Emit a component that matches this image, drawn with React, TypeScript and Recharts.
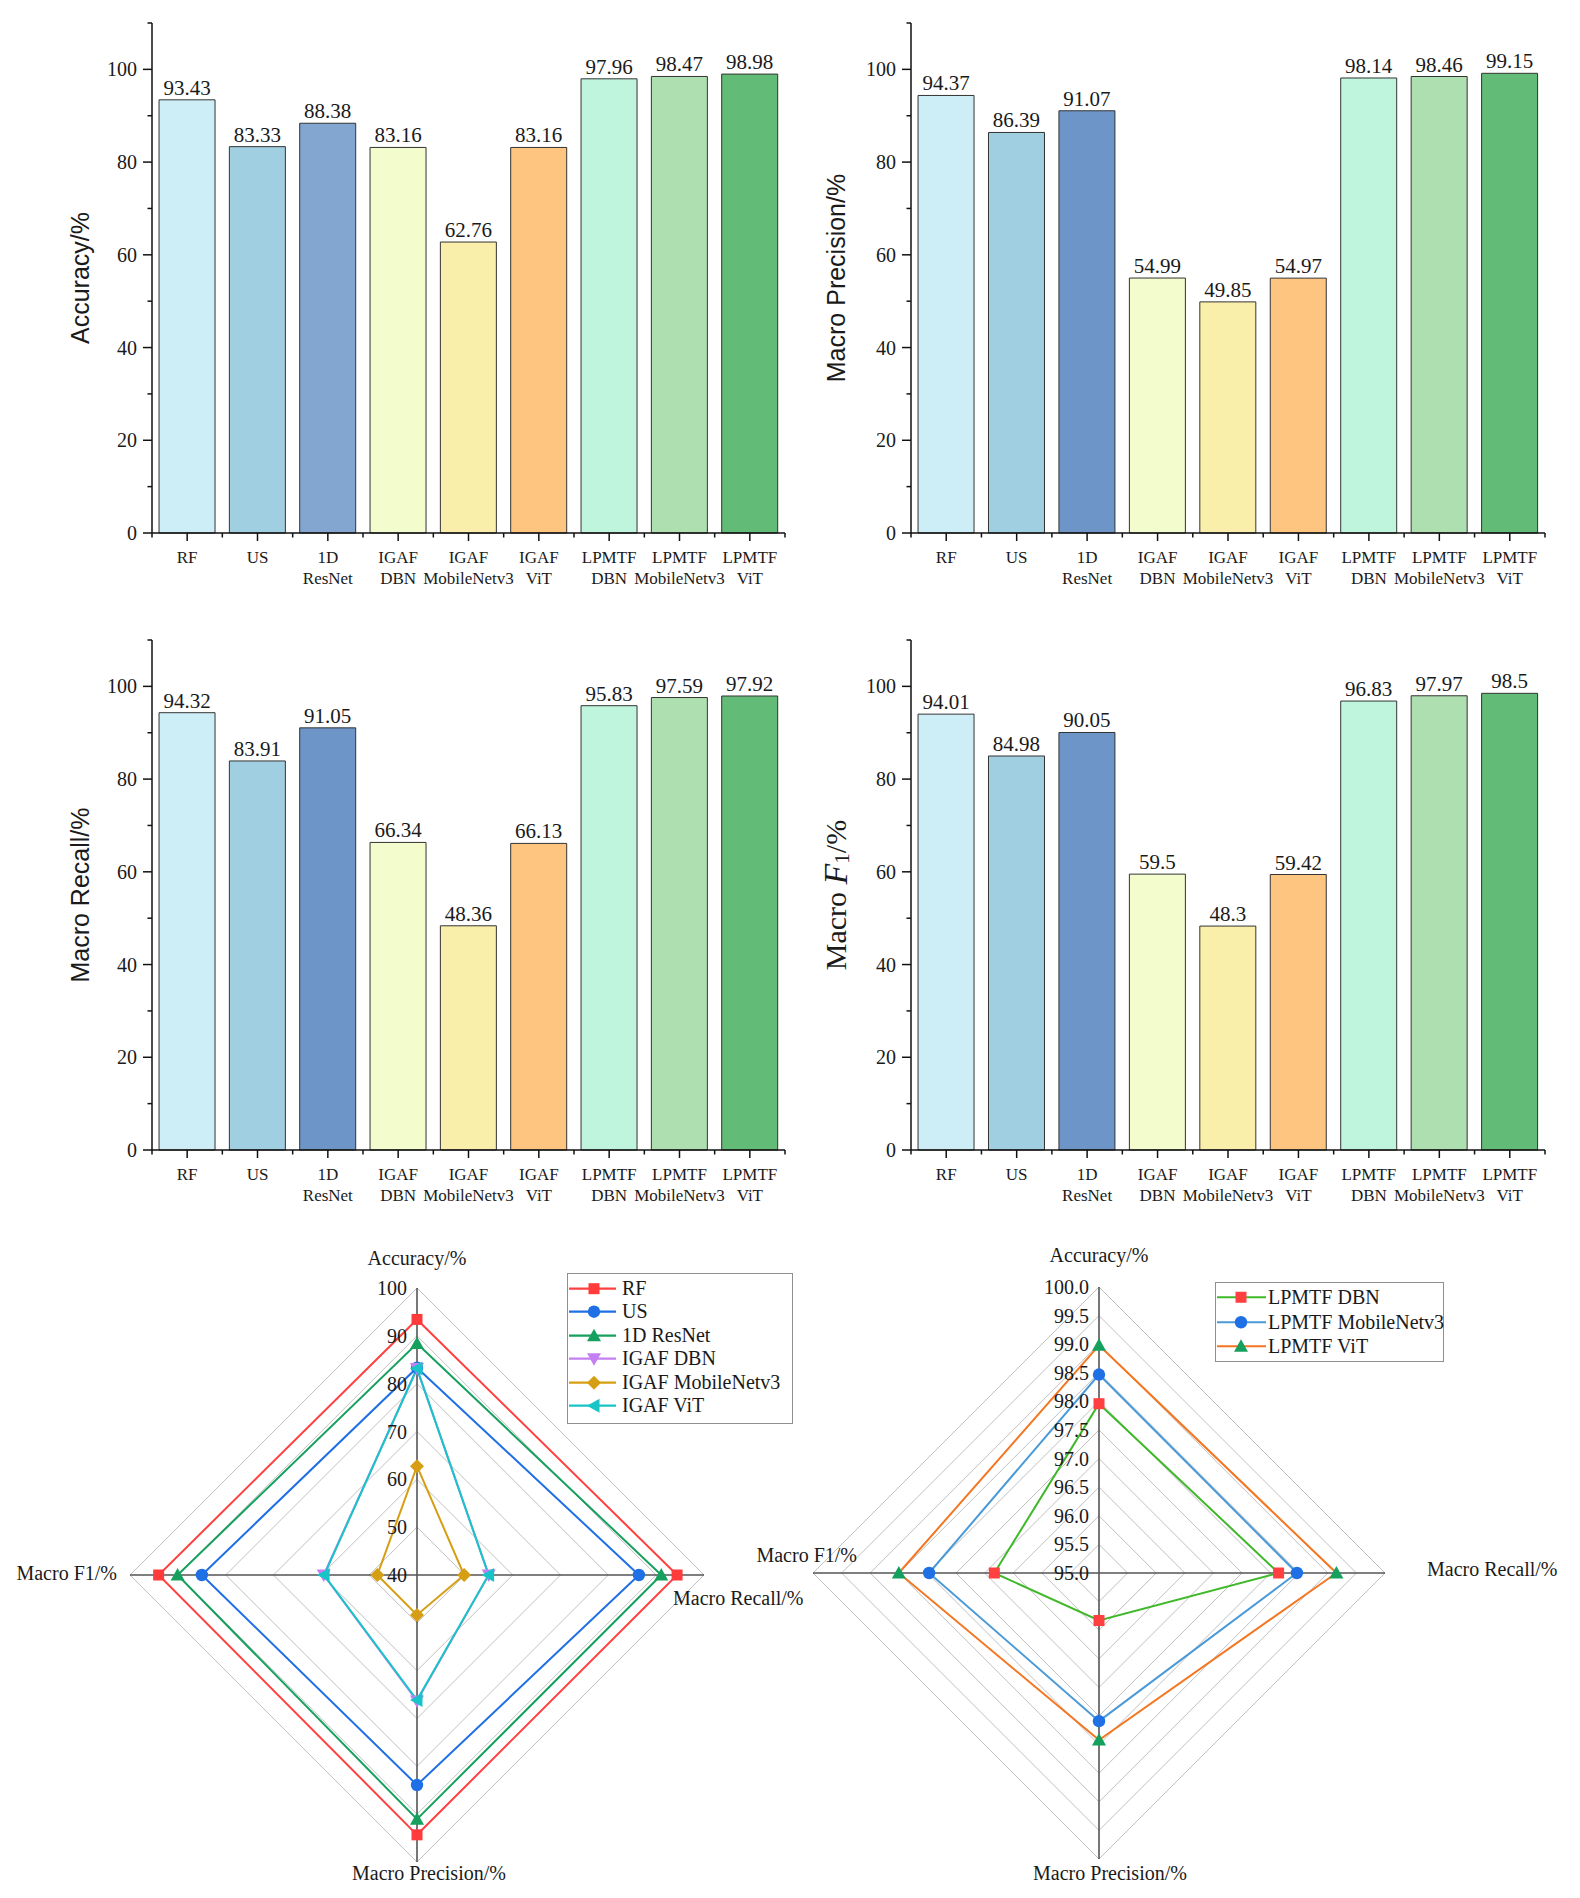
import React from 'react';
import {
  BarChart, Bar, XAxis, YAxis, LabelList, Cell,
  RadarChart, Radar, PolarGrid, PolarAngleAxis, PolarRadiusAxis, Legend,
} from 'recharts';

const SERIF = '"Liberation Serif", "Times New Roman", serif';
const SANS = '"Liberation Sans", Arial, sans-serif';
const INK = '#1a1a1a';

// ---------- data ----------
const categories = [
  'RF', 'US', '1D ResNet', 'IGAF DBN', 'IGAF MobileNetv3', 'IGAF ViT',
  'LPMTF DBN', 'LPMTF MobileNetv3', 'LPMTF ViT',
];
const accuracy = [93.43, 83.33, 88.38, 83.16, 62.76, 83.16, 97.96, 98.47, 98.98];
const macroPrecision = [94.37, 86.39, 91.07, 54.99, 49.85, 54.97, 98.14, 98.46, 99.15];
const macroRecall = [94.32, 83.91, 91.05, 66.34, 48.36, 66.13, 95.83, 97.59, 97.92];
const macroF1 = [94.01, 84.98, 90.05, 59.5, 48.3, 59.42, 96.83, 97.97, 98.5];

const barYTicks = [0, 10, 20, 30, 40, 50, 60, 70, 80, 90, 100, 110];
const barColorsA = ['#cdeef7', '#a0cfe1', '#82a6d0', '#f3fccc', '#f9eeaa', '#fec580', '#bff5dc', '#aedfb1', '#62bb76'];
const barColorsB = ['#cdeef7', '#a0cfe1', '#6d95c8', '#f3fccc', '#f9eeaa', '#fec580', '#bff5dc', '#aedfb1', '#62bb76'];

// radar axes as labelled in the figure (clockwise from top) and the metric plotted on each
const radarAxisLabels = ['Accuracy/%', 'Macro Recall/%', 'Macro Precision/%', 'Macro F1/%'];
const radarAxisValues = [accuracy, macroPrecision, macroRecall, macroF1];

const leftRadarTicks = [40, 50, 60, 70, 80, 90, 100];
const rightRadarTicks = [95, 95.5, 96, 96.5, 97, 97.5, 98, 98.5, 99, 99.5, 100];

const leftSeries = categories.slice(0, 6);
const leftLineColors = ['#ff4040', '#1f6fe5', '#16a05d', '#c47ff2', '#d69e12', '#17c4c8'];
const leftMarkerColors = ['#ff3b3b', '#1f6fe5', '#16a05d', '#c47ff2', '#d69e12', '#17c4c8'];
const leftMarkers = ['square', 'circle', 'triangle', 'triangleDown', 'diamond', 'triangleLeft'];

const rightSeries = categories.slice(6);
const rightLineColors = ['#3fb82a', '#4a9ad8', '#f47620'];
const rightMarkerColors = ['#ff4040', '#1f6fe5', '#16a05d'];
const rightMarkers = ['square', 'circle', 'triangle'];

const radarRows = radarAxisLabels.map((axis, k) => {
  const row: Record<string, any> = { axis };
  categories.forEach((c, j) => { row[c] = radarAxisValues[k][j]; });
  return row;
});

// ---------- bar panels ----------
function splitLabel(s: string) {
  const i = s.indexOf(' ');
  return i < 0 ? [s] : [s.slice(0, i), s.slice(i + 1)];
}

function YTick(props: any) {
  const { x, y, payload } = props;
  const v = payload.value;
  const major = v % 20 === 0;
  return (
    <g>
      <line x1={x - (major ? 9 : 4.5)} x2={x} y1={y} y2={y} stroke="#111" strokeWidth={1.5} />
      {major && (
        <text x={x - 15} y={y} dy={7} textAnchor="end" fontFamily={SERIF} fontSize={20} fill={INK}>
          {v}
        </text>
      )}
    </g>
  );
}

function makeXTick(band: number, count: number) {
  return (props: any) => {
    const { x, y, payload, index } = props;
    const lines = splitLabel(String(payload.value));
    const axisY = y - 10;
    return (
      <g>
        <line x1={x - band / 2} x2={x - band / 2} y1={axisY} y2={axisY + 4.5} stroke="#111" strokeWidth={1.5} />
        {index === count - 1 && (
          <line x1={x + band / 2} x2={x + band / 2} y1={axisY} y2={axisY + 4.5} stroke="#111" strokeWidth={1.5} />
        )}
        <text textAnchor="middle" fontFamily={SERIF} fontSize={17} fill={INK}>
          {lines.map((l, i) => (
            <tspan key={i} x={x} y={y + 20 + i * 21}>{l}</tspan>
          ))}
        </text>
      </g>
    );
  };
}

type PanelProps = {
  left: number; top: number; yAxisWidth: number; marginRight: number;
  values: number[]; colors: string[]; labelGap: number; yLabel: React.ReactNode;
};

const PANEL_W = 790;
const PANEL_H = 620;

function BarPanel({ left, top, yAxisWidth, marginRight, values, colors, labelGap, yLabel }: PanelProps) {
  const rows = categories.map((name, i) => ({ name, value: values[i] }));
  const band = (PANEL_W - yAxisWidth - marginRight) / categories.length;
  const XTick = makeXTick(band, categories.length);
  return (
    <div style={{ position: 'absolute', left, top }}>
      <BarChart
        width={PANEL_W}
        height={PANEL_H}
        data={rows}
        margin={{ top: 23, right: marginRight, bottom: 27, left: 0 }}
        barCategoryGap="10%"
      >
        <XAxis
          dataKey="name"
          interval={0}
          tick={XTick}
          tickSize={8}
          tickMargin={2}
          height={60}
          axisLine={{ stroke: '#111', strokeWidth: 1.5 }}
          tickLine={{ stroke: '#111', strokeWidth: 1.5 }}
        />
        <YAxis
          width={yAxisWidth}
          domain={[0, 110]}
          ticks={barYTicks}
          interval={0}
          tick={YTick}
          tickLine={false}
          tickSize={0}
          tickMargin={0}
          axisLine={{ stroke: '#111', strokeWidth: 1.5 }}
          label={{
            content: (p: any) => {
              const vb = p.viewBox || {};
              const cx = (vb.x || 0) + (vb.width || 0) - labelGap;
              const cy = (vb.y || 0) + (vb.height || 0) / 2;
              return (
                <g transform={`rotate(-90 ${cx} ${cy})`}>
                  <text x={cx} y={cy} textAnchor="middle" dominantBaseline="central" fill={INK}>
                    {yLabel}
                  </text>
                </g>
              );
            },
          }}
        />
        <Bar dataKey="value" stroke="#333" strokeWidth={1} isAnimationActive={false}>
          {rows.map((r, i) => (
            <Cell key={r.name} fill={colors[i]} />
          ))}
          <LabelList dataKey="value" position="top" offset={5} fontFamily={SERIF} fontSize={21} fill={INK} />
        </Bar>
      </BarChart>
    </div>
  );
}

const sansLabel = (s: string) => (
  <tspan fontFamily={SANS} fontSize={25}>{s}</tspan>
);

const f1Label = (
  <tspan fontFamily={SERIF} fontSize={30}>
    <tspan>{'Macro '}</tspan>
    <tspan fontStyle="italic" fontSize={34}>F</tspan>
    <tspan fontSize={21} dy={7}>1</tspan>
    <tspan dy={-7}>/%</tspan>
  </tspan>
);

// ---------- radar panels ----------
function Marker({ shape, cx, cy, fill, s = 5.5 }: { shape: string; cx: number; cy: number; fill: string; s?: number }) {
  switch (shape) {
    case 'square':
      return <rect x={cx - s} y={cy - s} width={2 * s} height={2 * s} fill={fill} />;
    case 'circle':
      return <circle cx={cx} cy={cy} r={s + 0.7} fill={fill} />;
    case 'triangle':
      return <polygon points={`${cx},${cy - s - 1.5} ${cx + s + 1.5},${cy + s} ${cx - s - 1.5},${cy + s}`} fill={fill} />;
    case 'triangleDown':
      return <polygon points={`${cx},${cy + s + 1.5} ${cx + s + 1.5},${cy - s} ${cx - s - 1.5},${cy - s}`} fill={fill} />;
    case 'diamond':
      return <polygon points={`${cx},${cy - s - 1.5} ${cx + s + 1.5},${cy} ${cx},${cy + s + 1.5} ${cx - s - 1.5},${cy}`} fill={fill} />;
    case 'triangleLeft':
      return <polygon points={`${cx - s - 1.5},${cy} ${cx + s},${cy - s - 1.5} ${cx + s},${cy + s + 1.5}`} fill={fill} />;
    default:
      return null;
  }
}

type LabelOffset = { dx: number; dy: number; anchor: 'start' | 'middle' | 'end' };

function makeAngleTick(offsets: LabelOffset[]) {
  return (props: any) => {
    const { x, y, payload, index } = props;
    const o = offsets[index] || { dx: 0, dy: 0, anchor: 'middle' };
    return (
      <text x={x + o.dx} y={y + o.dy} textAnchor={o.anchor} fontFamily={SERIF} fontSize={20} fill={INK}>
        {payload.value}
      </text>
    );
  };
}

function makeRadiusTick(decimals: number) {
  return (props: any) => {
    const { x, y, payload } = props;
    return (
      <text x={x - 10} y={y} dy={7} textAnchor="end" fontFamily={SERIF} fontSize={20} fill={INK}>
        {Number(payload.value).toFixed(decimals)}
      </text>
    );
  };
}

function RadarLegendBox({ names, lineColors, markerColors, markers, width, rowH, padTop, padBottom, lineEnd, markerX, textX }: any) {
  return (
    <div
      style={{
        border: '1px solid #8f8f8f', background: '#fff', width, boxSizing: 'border-box',
        paddingTop: padTop, paddingBottom: padBottom,
      }}
    >
      {names.map((n: string, i: number) => (
        <div key={n} style={{ position: 'relative', height: rowH }}>
          <svg width={textX} height={rowH} style={{ position: 'absolute', left: 0, top: 0 }}>
            <line x1={1} x2={lineEnd} y1={rowH / 2} y2={rowH / 2} stroke={lineColors[i]} strokeWidth={2.2} />
            <Marker shape={markers[i]} cx={markerX} cy={rowH / 2} fill={markerColors[i]} />
          </svg>
          <span
            style={{
              position: 'absolute', left: textX, top: 0, lineHeight: `${rowH}px`,
              fontFamily: SERIF, fontSize: 20, color: INK, whiteSpace: 'nowrap',
            }}
          >
            {n}
          </span>
        </div>
      ))}
    </div>
  );
}

type RadarPanelProps = {
  left: number; top: number; width: number; cx: number; cy: number; r: number;
  domain: [number, number]; ticks: number[]; decimals: number;
  series: string[]; lineColors: string[]; markerColors: string[]; markers: string[];
  labelOffsets: LabelOffset[]; legend: any; legendPos: { left: number; top: number };
};

function RadarPanel(p: RadarPanelProps) {
  return (
    <div style={{ position: 'absolute', left: p.left, top: p.top }}>
      <RadarChart
        width={p.width}
        height={658}
        data={radarRows}
        cx={p.cx}
        cy={p.cy}
        outerRadius={p.r}
        margin={{ top: 0, right: 0, bottom: 0, left: 0 }}
      >
        <PolarGrid gridType="polygon" radialLines={false} stroke="#c0c0c0" strokeWidth={1} />
        <PolarGrid gridType="polygon" polarRadius={[]} stroke="#555" strokeWidth={1.6} />
        <PolarAngleAxis
          dataKey="axis"
          tick={makeAngleTick(p.labelOffsets)}
          tickLine={false}
          axisLine={false}
        />
        <PolarRadiusAxis
          angle={90}
          type="number"
          domain={p.domain}
          ticks={p.ticks as any}
          tickCount={p.ticks.length}
          axisLine={false}
          tick={makeRadiusTick(p.decimals)}
          allowDataOverflow
        />
        {p.series.map((name, i) => (
          <Radar
            key={name}
            name={name}
            dataKey={(row: any) => row[name]}
            stroke={p.lineColors[i]}
            strokeWidth={2}
            fill="none"
            fillOpacity={0}
            isAnimationActive={false}
            dot={(d: any) => (
              <Marker key={`${name}-${d.index}`} shape={p.markers[i]} cx={d.cx} cy={d.cy} fill={p.markerColors[i]} />
            )}
          />
        ))}
        <Legend
          verticalAlign="top"
          align="left"
          wrapperStyle={{ position: 'absolute', left: p.legendPos.left, top: p.legendPos.top, width: 'auto', height: 'auto' }}
          content={() => p.legend}
        />
      </RadarChart>
    </div>
  );
}

export default function App() {
  return (
    <div style={{ position: 'absolute', left: 0, top: 0, width: 1580, height: 1898, background: '#fff', overflow: 'hidden' }}>
      <BarPanel left={0} top={0} yAxisWidth={152} marginRight={5} values={accuracy} colors={barColorsA} labelGap={72} yLabel={sansLabel('Accuracy/%')} />
      <BarPanel left={790} top={0} yAxisWidth={121} marginRight={35} values={macroPrecision} colors={barColorsB} labelGap={75} yLabel={sansLabel('Macro Precision/%')} />
      <BarPanel left={0} top={617} yAxisWidth={152} marginRight={5} values={macroRecall} colors={barColorsB} labelGap={72} yLabel={sansLabel('Macro Recall/%')} />
      <BarPanel left={790} top={617} yAxisWidth={121} marginRight={35} values={macroF1} colors={barColorsB} labelGap={76} yLabel={f1Label} />

      <RadarPanel
        left={0} top={1240} width={900} cx={417} cy={335} r={287}
        domain={[40, 100]} ticks={leftRadarTicks} decimals={0}
        series={leftSeries} lineColors={leftLineColors} markerColors={leftMarkerColors} markers={leftMarkers}
        labelOffsets={[
          { dx: 0, dy: -15, anchor: 'middle' },
          { dx: -39, dy: 30, anchor: 'start' },
          { dx: 12, dy: 10, anchor: 'middle' },
          { dx: -5, dy: 5, anchor: 'end' },
        ]}
        legendPos={{ left: 567, top: 33 }}
        legend={
          <RadarLegendBox
            names={leftSeries} lineColors={leftLineColors} markerColors={leftMarkerColors} markers={leftMarkers}
            width={226} rowH={23.4} padTop={3} padBottom={6} lineEnd={48} markerX={26} textX={54}
          />
        }
      />
      <RadarPanel
        left={700} top={1240} width={880} cx={399} cy={333} r={286}
        domain={[95, 100]} ticks={rightRadarTicks} decimals={1}
        series={rightSeries} lineColors={rightLineColors} markerColors={rightMarkerColors} markers={rightMarkers}
        labelOffsets={[
          { dx: 0, dy: -17, anchor: 'middle' },
          { dx: 34, dy: 3, anchor: 'start' },
          { dx: 11, dy: 13, anchor: 'middle' },
          { dx: 52, dy: -11, anchor: 'end' },
        ]}
        legendPos={{ left: 515, top: 42 }}
        legend={
          <RadarLegendBox
            names={rightSeries} lineColors={rightLineColors} markerColors={rightMarkerColors} markers={rightMarkers}
            width={229} rowH={24.5} padTop={2} padBottom={2} lineEnd={50} markerX={25} textX={52}
          />
        }
      />
    </div>
  );
}
